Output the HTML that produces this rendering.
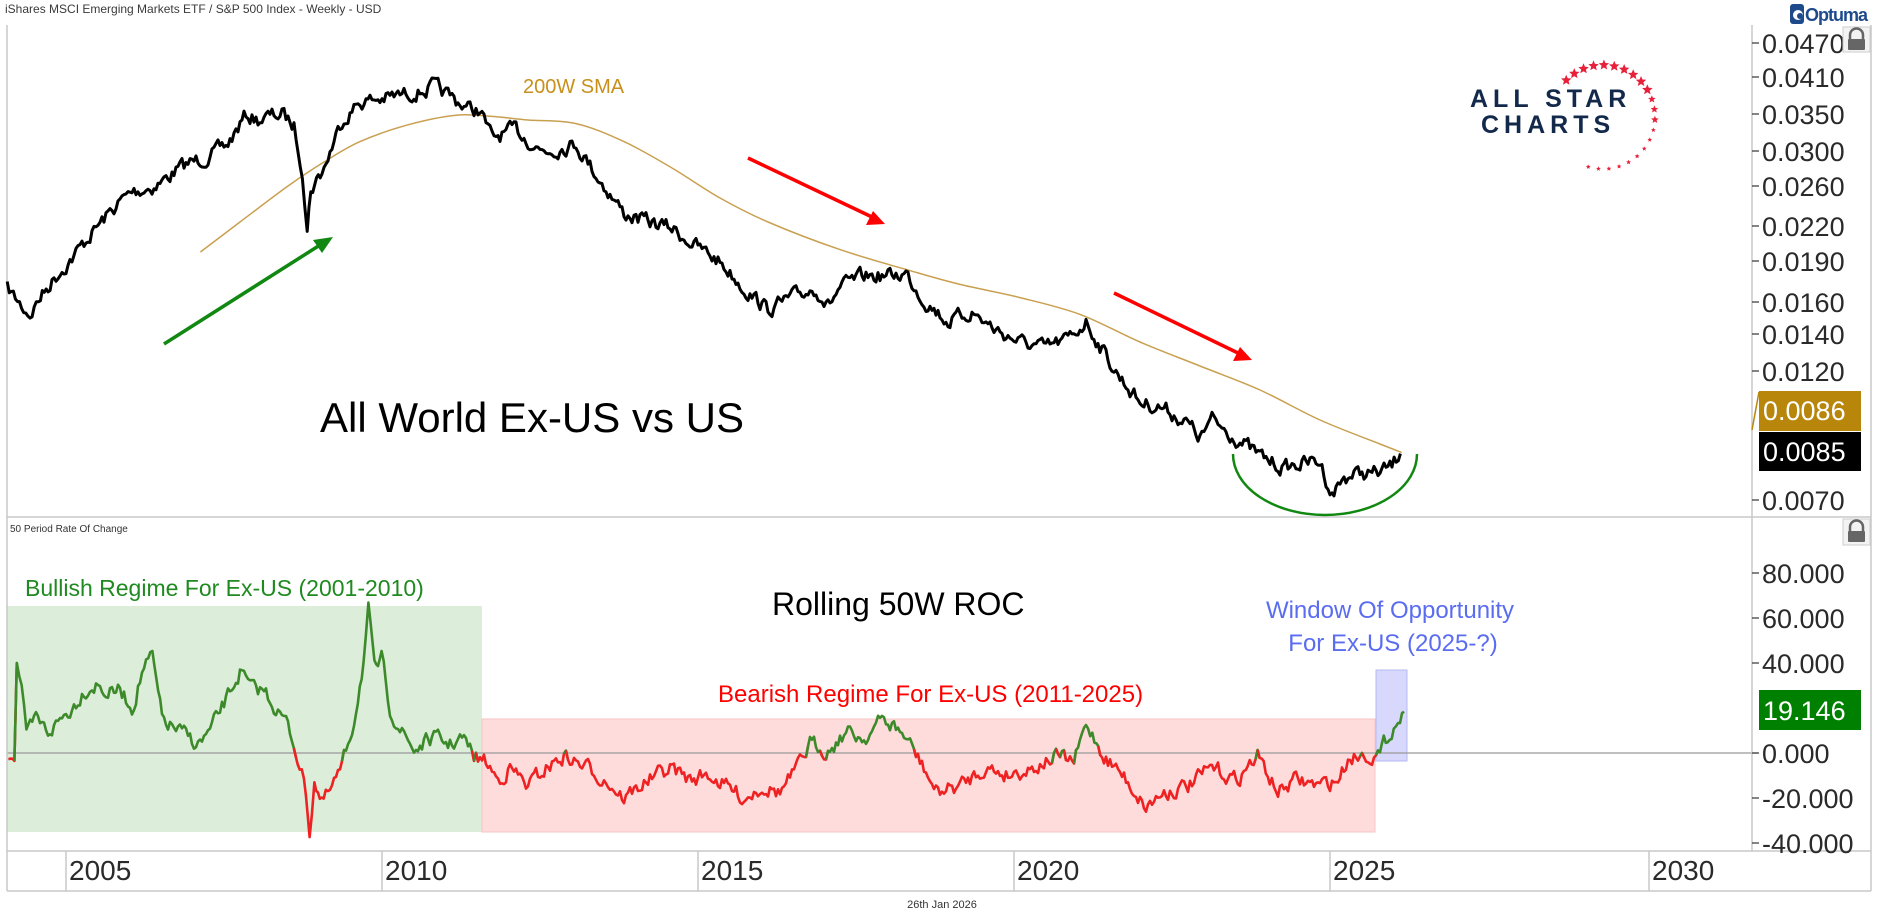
<!DOCTYPE html>
<html><head><meta charset="utf-8"><style>
html,body{margin:0;padding:0;background:#fff;}
svg{display:block;font-family:"Liberation Sans",sans-serif;}
</style></head><body>
<svg id="s" width="1878" height="924" viewBox="0 0 1878 924" xmlns="http://www.w3.org/2000/svg">
<rect width="1878" height="924" fill="#fff"/>
<text x="5" y="13" font-size="12" fill="#3a3a3a">iShares MSCI Emerging Markets ETF / S&amp;P 500 Index - Weekly - USD</text>
<text x="10" y="532" font-size="10" fill="#333">50 Period Rate Of Change</text>
<rect x="7" y="606" width="475" height="226" fill="#dcedda"/>
<rect x="482" y="719" width="893" height="113" fill="#ffdcdc" stroke="#f6c4c4"/>
<rect x="1376" y="670" width="31" height="91" fill="#d8d8fc" stroke="#b4baf2"/>
<line x1="7" y1="753" x2="1758" y2="753" stroke="#999" stroke-width="1.2"/>
<g stroke="#c8c8c8" stroke-width="1.5" fill="none">
<line x1="7" y1="25" x2="7" y2="891"/>
<line x1="1752" y1="25" x2="1752" y2="851"/>
<line x1="1871" y1="25" x2="1871" y2="891"/>
<line x1="7" y1="517" x2="1871" y2="517"/>
<line x1="7" y1="851" x2="1871" y2="851"/>
<line x1="7" y1="891" x2="1871" y2="891"/>
<line x1="66" y1="851" x2="66" y2="891"/><line x1="382" y1="851" x2="382" y2="891"/>
<line x1="698" y1="851" x2="698" y2="891"/><line x1="1014" y1="851" x2="1014" y2="891"/>
<line x1="1330" y1="851" x2="1330" y2="891"/><line x1="1649" y1="851" x2="1649" y2="891"/>
</g>
<g font-size="28" fill="#2a2a2a">
<text x="69" y="880">2005</text><text x="385" y="880">2010</text><text x="701" y="880">2015</text>
<text x="1017" y="880">2020</text><text x="1333" y="880">2025</text><text x="1652" y="880">2030</text>
</g>
<text x="942" y="908" font-size="11" fill="#333" text-anchor="middle">26th Jan 2026</text>
<g id="axes" font-size="27" fill="#2a2a2a"></g>
<rect x="1759" y="391" width="102" height="40" fill="#b8860b"/>
<text x="1763" y="420" font-size="27" fill="#fff">0.0086</text>
<rect x="1759" y="432" width="102" height="39" fill="#000"/>
<text x="1763" y="461" font-size="27" fill="#fff">0.0085</text>
<rect x="1759" y="690" width="102" height="40" fill="#008000"/>
<text x="1763" y="720" font-size="27" fill="#fff">19.146</text>
<line x1="1752" y1="430" x2="1759" y2="392" stroke="#b8860b" stroke-width="1.5"/>
<g fill="#666">
<rect x="1843" y="27" width="27" height="25" fill="#f3f3f3" stroke="#ccc"/>
<path d="M1850 40 v-5 a6.5 6.5 0 0 1 13 0 v5" fill="none" stroke="#666" stroke-width="2.5"/>
<rect x="1848" y="39" width="17" height="11" rx="1"/>
<rect x="1843" y="519" width="27" height="26" fill="#f3f3f3" stroke="#ccc"/>
<path d="M1850 532 v-5 a6.5 6.5 0 0 1 13 0 v5" fill="none" stroke="#666" stroke-width="2.5"/>
<rect x="1848" y="531" width="17" height="11" rx="1"/>
</g>
<rect x="1790" y="4" width="14" height="20" rx="3" fill="#1e4a8c"/>
<circle cx="1798" cy="15" r="5" fill="#fff"/><circle cx="1800" cy="16" r="3" fill="#1e4a8c"/>
<text x="1805" y="21" font-size="18" fill="#1e4a8c" font-weight="bold" letter-spacing="-1">Optuma</text>
<text x="1470" y="107" font-size="25" font-weight="bold" fill="#13294b" letter-spacing="5">ALL STAR</text>
<text x="1481" y="133" font-size="25" font-weight="bold" fill="#13294b" letter-spacing="5">CHARTS</text>
<g id="stars" fill="#e8203a"></g>
<text x="523" y="93" font-size="20" fill="#c8901a">200W SMA</text>
<text x="320" y="432" font-size="42" fill="#000">All World Ex-US vs US</text>
<text x="772" y="615" font-size="32" fill="#000">Rolling 50W ROC</text>
<text x="25" y="596" font-size="23" fill="#1f8a1f">Bullish Regime For Ex-US (2001-2010)</text>
<text x="718" y="702" font-size="24" fill="#ff0000">Bearish Regime For Ex-US (2011-2025)</text>
<text x="1390" y="618" font-size="24" fill="#5a6cf0" text-anchor="middle">Window Of Opportunity</text>
<text x="1393" y="651" font-size="24" fill="#5a6cf0" text-anchor="middle">For Ex-US (2025-?)</text>
<g id="series"></g>
<line x1="164" y1="344" x2="320" y2="245" stroke="#118811" stroke-width="3.5"/>
<polygon points="333,237 313,240 322,253" fill="#118811"/>
<line x1="748" y1="158" x2="872" y2="217" stroke="#ff0000" stroke-width="3.5"/>
<polygon points="885,224 866,225 873,211" fill="#ff0000"/>
<line x1="1114" y1="293" x2="1238" y2="353" stroke="#ff0000" stroke-width="3.5"/>
<polygon points="1252,360 1233,361 1240,347" fill="#ff0000"/>
<path d="M1233 454 A92 61 0 0 0 1417 454" fill="none" stroke="#118811" stroke-width="2.5"/>
</svg>
<script>
(function(){
var NS="http://www.w3.org/2000/svg";
function el(t,a,p){var e=document.createElementNS(NS,t);for(var k in a)e.setAttribute(k,a[k]);(p||document.getElementById('series')).appendChild(e);return e;}
var ax=document.getElementById('axes');
var ticks=[["0.0470",43],["0.0410",77],["0.0350",114],["0.0300",151],["0.0260",186],["0.0220",226],["0.0190",261],["0.0160",302],["0.0140",334],["0.0120",371],["0.0070",500],
["80.000",573],["60.000",618],["40.000",663],["0.000",753],["-20.000",798],["-40.000",843]];
ticks.forEach(function(t){el('line',{x1:1752,y1:t[1],x2:1759,y2:t[1],stroke:'#333','stroke-width':1.2},ax);
var tx=el('text',{x:1762,y:t[1]+10},ax);tx.textContent=t[0];});
var st=document.getElementById('stars');
function star(cx,cy,r){var p=[];for(var i=0;i<10;i++){var a=-Math.PI/2+i*Math.PI/5,rr=i%2?r*0.45:r;p.push((cx+rr*Math.cos(a)).toFixed(1)+','+(cy+rr*Math.sin(a)).toFixed(1));}el('polygon',{points:p.join(' ')},st);}
var cx=1603,cy=117,R=52;
for(var i=0;i<22;i++){var ang=(-135+i*11.5)*Math.PI/180;var r=i<10?5.5:(i<13?4:2.5);star(cx+R*Math.cos(ang),cy+R*Math.sin(ang),r);}
var seed=7;function rnd(){seed=(seed*16807)%2147483647;return seed/2147483647;}
function gen(pts,amp,step){var out=[];var n=0;for(var i=0;i<pts.length-1;i++){var a=pts[i],b=pts[i+1];var d=Math.max(1,Math.round((b[0]-a[0])*1.2/step));for(var j=0;j<d;j++){var t=j/d;n=n*0.5+(rnd()-0.5)*amp;out.push([(a[0]+(b[0]-a[0])*t)*1.2,(a[1]+(b[1]-a[1])*t)*1.2+n]);}}var l=pts[pts.length-1];out.push([l[0]*1.2,l[1]*1.2]);return out;}
function P(a){return a.map(function(p){return p[0].toFixed(1)+','+p[1].toFixed(1)}).join(' ');}
var sma=[[167,210],[200,185],[240,155],[270,135],[300,118],[340,104],[380,96],[410,97],[440,100],[480,103],[520,118],[560,140],[600,165],[640,185],[700,208],[760,226],[800,237],[850,248],[900,262],[950,285],[1000,305],[1050,325],[1100,350],[1150,370],[1168,377]];
var sm=sma.map(function(p){return [p[0]*1.2,p[1]*1.2]});
var d='M'+sm[0][0]+' '+sm[0][1];
for(var i=0;i<sm.length-1;i++){var p0=sm[i-1]||sm[i],p1=sm[i],p2=sm[i+1],p3=sm[i+2]||p2;
d+=' C'+(p1[0]+(p2[0]-p0[0])/6).toFixed(1)+' '+(p1[1]+(p2[1]-p0[1])/6).toFixed(1)+' '+(p2[0]-(p3[0]-p1[0])/6).toFixed(1)+' '+(p2[1]-(p3[1]-p1[1])/6).toFixed(1)+' '+p2[0].toFixed(1)+' '+p2[1].toFixed(1);}
el('path',{d:d,fill:'none',stroke:'#c9a050','stroke-width':1.5});
var blk=[[6,240],[18,255],[25,262],[32,250],[45,232],[60,215],[80,190],[100,168],[110,160],[130,155],[150,140],[160,135],[175,130],[190,120],[205,96],[215,100],[225,97],[235,95],[245,105],[252,140],[256,190],[259,158],[270,140],[285,100],[300,85],[320,82],[340,78],[355,75],[360,72],[375,80],[390,90],[400,92],[410,115],[430,108],[450,125],[460,125],[480,120],[500,150],[520,178],[540,185],[560,190],[580,205],[600,218],[620,240],[640,258],[660,248],[680,240],[690,255],[700,240],[720,230],[740,230],[755,228],[770,250],[790,268],[810,260],[830,275],[850,285],[870,290],[890,283],[905,268],[915,285],[930,310],[950,335],[970,340],[990,353],[1000,365],[1010,350],[1030,365],[1050,380],[1070,390],[1090,385],[1100,385],[1110,412],[1120,398],[1130,395],[1150,394],[1160,388],[1167,378]];
el('polyline',{points:P(gen(blk,13,2)),fill:'none',stroke:'#000','stroke-width':3,'stroke-linejoin':'round'});
var roc=[[7,628],[12,628],[14,552],[18,570],[22,615],[30,600],[40,610],[50,600],[60,590],[70,575],[80,570],[90,578],[100,575],[110,590],[120,555],[127,548],[135,600],[150,610],[165,620],[175,610],[185,590],[200,560],[210,575],[220,575],[230,590],[240,605],[248,630],[255,660],[258,693],[262,650],[268,670],[275,660],[285,640],[295,600],[303,550],[307,508],[312,560],[318,550],[325,590],[335,610],[345,625],[360,615],[375,620],[385,615],[395,630],[405,635],[415,650],[425,640],[440,655],[455,640],[470,630],[490,640],[505,650],[520,665],[540,650],[560,640],[575,650],[590,645],[605,655],[620,665],[635,655],[650,660],[665,640],[675,620],[690,625],[705,610],[720,615],[735,600],[745,605],[755,615],[770,640],[780,660],[800,655],[820,640],[840,645],[860,640],[880,630],[895,635],[905,605],[912,615],[920,630],[935,645],[955,672],[970,660],[990,655],[1010,640],[1030,650],[1048,630],[1065,660],[1080,650],[1100,655],[1115,650],[1125,630],[1140,628],[1150,630],[1158,610],[1165,600],[1170,593]];
var rp=gen(roc,14,2);
var cur=null,seg=[];
for(var i=0;i<rp.length;i++){var c=rp[i][1]<=753?'#3d8a2a':'#ee2222';if(c!==cur&&seg.length){seg.push(rp[i]);el('polyline',{points:P(seg),fill:'none',stroke:cur,'stroke-width':2.6,'stroke-linejoin':'round'});seg=[rp[i-1]];}cur=c;seg.push(rp[i]);}
el('polyline',{points:P(seg),fill:'none',stroke:cur,'stroke-width':2.6,'stroke-linejoin':'round'});
})();
</script>
</body></html>
